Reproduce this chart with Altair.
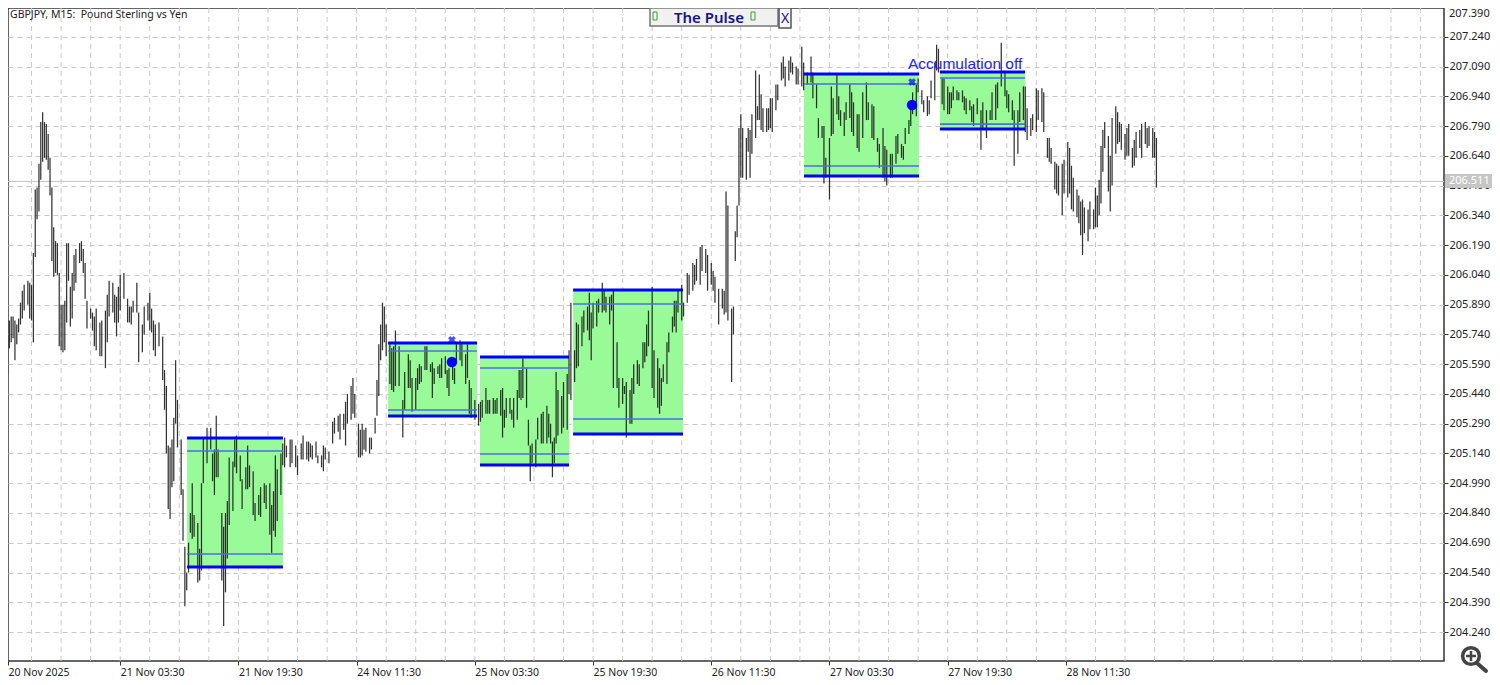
import json
import altair as alt
import pandas as pd

# Rows: bar number (15-minute bars), high and low, both in hundredths of a yen above 204.00
WEEK_A = [(1,158,134),(2,169,143),(3,174,154),(4,181,167),(5,183,170),(6,183,172),(7,181,161),(8,179,169),(9,182,175),(10,190,179),
(11,196,182),(12,199,186),(14,201,189),(15,200,182),(16,199,181),(17,215,170),(18,247,213),(19,248,232),(20,260,236),(21,281,252),
(22,286,261),(23,281,263),(24,280,262),(25,275,257),(26,263,244),(27,248,211),(28,228,203),(29,221,205),(30,220,204),(31,205,168),
(32,189,166),(33,189,165),(34,191,166),(35,220,180),(36,220,201),(37,198,178),(38,205,182),(39,214,196),(40,217,200),(42,220,210),
(43,221,211),(44,217,205),(45,210,192),(46,191,177),(48,187,182),(49,185,176),(50,183,168),(51,187,166),(53,180,163),(54,181,163),
(56,186,157),(57,194,170),(58,201,183),(60,200,185),(61,194,180),(62,193,173),(63,198,180),(64,204,186),(66,205,192),(68,192,180),
(69,188,180),(70,188,179),(71,191,185),(73,200,185),(74,185,160),(76,179,165),(77,188,174),(79,190,181),(80,195,176),(81,187,175),
(82,181,166),(83,179,163),(85,180,168),(87,173,151),(88,156,136),(89,148,114),(90,118,86),(91,117,81),(92,121,97),(93,132,100),
(94,161,129),(95,141,117),(97,121,93),(98,96,70),(99,67,37),(100,54,45),(101,69,54),(102,84,74),(103,99,71),(104,83,72),
(106,79,49),(107,66,50),(108,99,55),(109,122,99),(111,127,109),(113,127,116),(114,114,100),(115,116,93),(116,133,102),(117,116,102),
(119,84,50),(120,77,27),(121,84,44),(122,90,61),(123,112,78),(125,110,85),(126,121,107),(127,123,104),(129,113,100),(130,101,86),
(132,107,96),(133,118,96),(134,108,97),(136,105,83),(137,89,80),(139,93,83),(140,97,82),(142,99,89),(143,98,86),(145,99,73),
(146,88,64),(147,95,75),(148,113,72),(149,106,80)]
WEEK_B = [(151,114,93),(152,119,108),(153,122,107),(154,118,112),(156,121,107),(157,121,109),(159,118,107),(160,113,103),(162,119,111),(163,123,111),
(165,120,111),(166,120,110),(167,119,112),(168,118,111),(170,120,112),(171,113,109),(173,113,107),(174,118,105),(175,117,111),(177,115,109),
(179,130,119),(180,132,124),(182,133,125),(183,134,121),(185,134,126),(186,140,118),(187,144,129),(189,148,131),(190,152,134),(191,144,132),
(193,129,112),(194,126,112),(195,129,113),(196,126,116),(197,127,115),(199,122,114),(200,122,116),(202,132,124),(203,151,133),(204,169,143),
(205,179,161),(206,190,166),(207,188,170),(208,179,163),(210,169,149),(211,167,146),(212,168,145),(213,176,148),(215,168,148),(217,141,122),
(218,155,136),(220,164,147),(221,161,147),(222,152,135),(224,152,136),(225,157,146),(226,159,149),(227,158,150),(229,168,156),(230,168,156),
(232,159,155),(233,160,142),(234,157,149),(236,158,154),(237,159,152),(238,162,152),(240,163,154),(241,156,147),(242,157,143),(244,162,151),
(245,157,149),(246,169,160),(248,171,161),(249,169,158),(251,164,149),(252,169,152),(253,151,134),(254,147,132),(256,141,131),(258,139,128),
(259,140,130),(260,141,132),(262,147,134),(263,141,134),(264,141,134),(266,142,134),(267,141,134),(268,142,134),(270,146,133),(271,147,122),
(272,136,127),(273,142,132),(275,142,134),(276,136,131),(277,142,127),(279,146,131),(280,156,142),(281,156,141),(282,162,142),(284,157,137),
(285,131,118),(286,118,100),(287,119,109),(289,121,107),(290,132,121),(292,134,119),(293,135,119),(295,138,119),(296,134,122),(297,129,119),
(298,120,102),(299,122,109),(300,155,119),(301,146,123),(303,143,124),(304,150,127),(306,154,126),(307,166,144),(308,190,141)]
WEEK_C = [(310,166,150),(311,180,157),(312,179,158),(314,183,168),(315,186,175),(317,188,176),(318,195,171),(319,185,161),(320,190,177),(322,191,178),
(323,192,185),(325,200,185),(326,196,186),(327,193,185),(329,193,179),(330,194,186),(331,196,147),(333,170,147),(334,152,137),(336,152,139),
(337,148,144),(338,150,122),(340,146,129),(341,152,129),(342,159,144),(344,161,149),(345,159,148),(347,170,157),(348,170,160),(349,179,163),
(350,186,168),(352,198,147),(353,166,142),(355,162,137),(356,157,134),(357,152,138),(358,159,150),(360,170,149),(361,175,165),(363,183,175),
(364,191,178),(365,191,175),(366,196,185),(368,199,181),(369,190,183),(371,205,190),(372,204,194),(374,210,196),(375,209,199),(376,212,201),
(378,218,199),(379,219,206),(381,217,205),(382,214,196),(384,210,199),(385,206,196),(386,203,190),(388,197,179),(390,197,187),(391,196,184),
(392,246,185),(393,239,181),(395,187,150),(396,188,174),(397,226,211),(398,239,223),(399,278,239),(400,285,253),(401,278,253),(403,273,252),
(404,278,266),(405,277,253),(406,285,265),(408,307,273),(409,289,282),(410,305,282),(411,295,277),(412,288,276),(414,288,276),(415,288,277),
(416,293,278),(417,293,276),(419,300,287),(420,300,292),(422,311,302),(423,314,303),(424,309,299),(426,312,302),(427,314,306),(428,311,305),
(430,309,300),(431,308,300),(433,319,299),(434,311,297),(436,306,300),(438,314,301),(439,306,293),(441,300,288),(442,283,273),(444,279,273),
(445,279,250),(446,263,253),(448,273,242),(449,299,274),(450,293,275),(452,305,285),(453,294,282),(454,287,279),(456,286,274),(457,291,282),
(459,300,283),(460,296,276),(461,291,274),(463,285,268),(464,285,266),(466,296,273),(468,301,282),(469,291,282),(471,290,273),(472,289,272)]
WEEK_D = [(474,273,266),(475,270,258),(477,278,253),(478,269,251),(479,267,249),(481,265,253),(482,265,253),(484,274,260),(485,275,265),(487,270,263),
(488,269,262),(489,278,270),(491,282,275),(492,288,279),(493,296,285),(495,300,284),(496,303,296),(498,297,290),(499,292,286),(501,294,284),
(502,292,285),(503,302,293),(505,311,292),(506,320,307),(507,318,306),(509,303,290),(510,303,287),(512,299,285),(513,296,285),(514,296,288),
(515,299,292),(517,297,292),(518,296,292),(520,297,291),(521,294,287),(522,293,285),(524,292,287),(525,289,281),(526,290,279),(528,293,285),
(530,287,267),(531,291,277),(533,287,273),(535,287,282),(536,296,282),(538,300,282),(539,301,288),(541,321,299),(543,307,294),(544,297,288),
(545,295,286),(547,292,282),(548,287,259),(550,287,265),(551,296,281),(553,299,282),(554,299,276),(555,288,272),(557,283,274),(558,285,277),
(560,298,276),(561,297,282),(563,298,281),(564,296,276),(566,273,263),(567,273,261),(568,268,260),(570,261,247),(571,260,245),(572,259,244),
(574,260,234),(575,262,245),(577,271,243),(578,268,245),(579,259,237),(580,253,236),(582,247,233),(583,244,230),(584,241,224),(585,242,214),
(586,238,225),(588,237,221),(589,241,227),(591,237,227),(592,248,228),(593,244,228),(594,252,234),(595,269,240),(596,277,256),(597,281,268),
(599,274,246),(600,264,236),(601,283,249),(603,289,265),(604,286,270),(605,281,271),(606,280,267),(608,275,262),(609,278,264),(610,280,264),
(612,268,258),(613,272,259),(614,276,263),(616,277,268),(617,280,263),(619,281,270),(620,278,268),(621,279,269),(623,278,263),(624,276,263),(625,273,248)]

BOX_START = [100.2, 209.0, 258.8, 309.2, 434.2, 507.8]
BOX_END = [152.1, 257.2, 307.0, 368.7, 496.5, 553.9]
BOX_TOP = [205.218, 205.697, 205.626, 205.964, 207.052, 207.062]
BOX_BOTTOM = [204.568, 205.329, 205.082, 205.238, 206.538, 206.775]
BOX_UPPER = [205.152, 205.656, 205.571, 205.893, 207.002, 207.032]
BOX_LOWER = [204.633, 205.359, 205.137, 205.314, 206.589, 206.800]

MARK_BAR = [243.6, 492.7]
CROSS_PRICE = [205.712, 207.012]
DOT_PRICE = [205.601, 206.896]

PRICE_TICKS = [207.24, 207.09, 206.94, 206.79, 206.64, 206.49, 206.34, 206.19, 206.04, 205.89,
               205.74, 205.59, 205.44, 205.29, 205.14, 204.99, 204.84, 204.69, 204.54, 204.39, 204.24]
TOP_PRICE_LABEL = "207.390"
TIME_TICKS = [3.3, 64, 128, 192, 256, 320, 384, 448, 512, 576]
TIME_LABELS = ["20 Nov 2025", "21 Nov 03:30", "21 Nov 19:30", "24 Nov 11:30", "25 Nov 03:30",
               "25 Nov 19:30", "26 Nov 11:30", "27 Nov 03:30", "27 Nov 19:30", "28 Nov 11:30"]
GRID_BARS = list(range(16, 784, 16))
LAST_PRICE = 206.511

FONT = "Noto Sans"
rows = WEEK_A + WEEK_B + WEEK_C + WEEK_D
bars = pd.DataFrame(rows, columns=["bar", "h", "l"])
bars["high"] = 204 + bars["h"] / 100
bars["low"] = 204 + bars["l"] / 100
boxes = pd.DataFrame(dict(s=BOX_START, e=BOX_END, top=BOX_TOP, bottom=BOX_BOTTOM, upper=BOX_UPPER, lower=BOX_LOWER))
marks = pd.DataFrame(dict(bar=MARK_BAR, cross=CROSS_PRICE, dot=DOT_PRICE))
one = pd.DataFrame({"a": [0]})

xs = alt.Scale(domain=[3.25, 780.7], nice=False, zero=False)
ys = alt.Scale(domain=[204.094, 207.385], nice=False, zero=False)
label_expr = json.dumps(TIME_LABELS) + "[round(datum.value/64)]"

x_axis = alt.Axis(
    values=TIME_TICKS, labelExpr=label_expr, title=None, grid=False, labelAlign="left",
    labelFont=FONT, labelFontSize=10.5, labelColor="#222", labelPadding=2, tickSize=4,
    tickColor="#333", domain=False, labelOverlap=False, labelBound=False, labelFlush=False)
y_axis = alt.Axis(
    orient="right", values=PRICE_TICKS, format=".3f", title=None, grid=True, gridColor="#c9c9c9",
    gridDash=[5, 4], labelFont=FONT, labelFontSize=11, labelColor="#222", labelPadding=1, tickSize=4,
    tickColor="#333", domain=False, labelOverlap=False, labelBound=False, labelFlush=False)

X = lambda f: alt.X(f, type="quantitative", scale=xs, axis=x_axis)
Y = lambda f: alt.Y(f, type="quantitative", scale=ys, axis=y_axis)

grid_x = alt.Chart(pd.DataFrame({"bar": GRID_BARS})).mark_rule(
    color="#c9c9c9", strokeDash=[5, 4], strokeWidth=1
).encode(x=X("bar"))

box_fill = alt.Chart(boxes).mark_rect(color="#98FB98").encode(x=X("s"), x2="e", y=Y("top"), y2="bottom")

candles = alt.Chart(bars).mark_rule(color="#111111", strokeWidth=1.25, opacity=0.85, clip=True).encode(
    x=X("bar"), y=Y("high"), y2="low")

def hline(col, width, color, opacity=1.0):
    return alt.Chart(boxes).mark_rule(color=color, strokeWidth=width, opacity=opacity).encode(
        x=X("s"), x2="e", y=Y(col))

last_line = alt.Chart(one).mark_rule(color="#c4c4c4", strokeWidth=1).encode(y=alt.Y(datum=LAST_PRICE, scale=ys, axis=y_axis))
last_box = alt.Chart(one).mark_rect(color="#c6c6c6").encode(
    x=alt.value(1437), x2=alt.value(1484), y=alt.value(166), y2=alt.value(180))
last_text = alt.Chart(one).mark_text(text=f"{LAST_PRICE:.3f}", color="white", font=FONT, fontSize=11, align="left").encode(
    x=alt.value(1441), y=alt.Y(datum=LAST_PRICE, scale=ys, axis=y_axis))
top_label = alt.Chart(one).mark_text(text=TOP_PRICE_LABEL, color="#222", font=FONT, fontSize=11, align="left").encode(
    x=alt.value(1441), y=alt.value(6))

cross = alt.Chart(marks).mark_point(shape="cross", size=60, filled=True, color="#0000ff", angle=45).encode(x=X("bar"), y=Y("cross"))
dot = alt.Chart(marks).mark_point(shape="circle", size=110, filled=True, color="#0000ff", opacity=1).encode(x=X("bar"), y=Y("dot"))
accum = alt.Chart(pd.DataFrame({"bar": [490.5], "price": [207.104], "t": ["Accumulation off"]})).mark_text(
    font="Liberation Sans", fontSize=15.5, color="#2222ff", align="left").encode(x=X("bar"), y=Y("price"), text="t:N")

header = alt.Chart(one).mark_text(text="GBPJPY, M15:\u00a0\u00a0Pound Sterling vs Yen", font=FONT, fontSize=10.5, color="#222", align="left").encode(
    x=alt.value(2), y=alt.value(7))
tri = alt.Chart(one).mark_point(shape="triangle-down", size=60, filled=True, color="#bdbdbd", opacity=1).encode(
    x=alt.value(1149), y=alt.value(0))
panel = alt.Chart(one).mark_rect(fill="#f1f1f1", stroke="#777", strokeWidth=1.5).encode(
    x=alt.value(642), x2=alt.value(770), y=alt.value(0), y2=alt.value(18))
panel_title = alt.Chart(one).mark_text(text="The Pulse", font="Noto Sans", fontWeight=600, fontSize=15, color="#14148c").encode(
    x=alt.value(701), y=alt.value(10))
led1 = alt.Chart(one).mark_rect(fill="#f1f1f1", stroke="#3a9a3a", strokeWidth=1).encode(
    x=alt.value(645), x2=alt.value(649), y=alt.value(4), y2=alt.value(12))
led2 = alt.Chart(one).mark_rect(fill="#f1f1f1", stroke="#3a9a3a", strokeWidth=1).encode(
    x=alt.value(743), x2=alt.value(747), y=alt.value(4), y2=alt.value(12))
x_btn = alt.Chart(one).mark_rect(fill="#f6f6f6", stroke="#555", strokeWidth=1.5).encode(
    x=alt.value(771), x2=alt.value(783), y=alt.value(0), y2=alt.value(20))
x_txt = alt.Chart(one).mark_text(text="X", font="Noto Sans", fontSize=14, color="#14148c").encode(
    x=alt.value(777), y=alt.value(11))

ICON = "#444444"
lens = alt.Chart(one).mark_point(shape="circle", size=280, filled=False, color=ICON, strokeWidth=3.5, opacity=1).encode(
    x=alt.value(1463), y=alt.value(648))
plus_h = alt.Chart(one).mark_rule(color=ICON, strokeWidth=2.5).encode(
    x=alt.value(1458), x2=alt.value(1468), y=alt.value(648))
plus_v = alt.Chart(one).mark_rule(color=ICON, strokeWidth=2.5).encode(
    x=alt.value(1463), y=alt.value(643), y2=alt.value(653))
handle = alt.Chart(one).mark_rule(color=ICON, strokeWidth=4, strokeCap="round").encode(
    x=alt.value(1470), x2=alt.value(1478), y=alt.value(656), y2=alt.value(663))

chart = alt.layer(
    grid_x, box_fill, last_line, candles,
    hline("upper", 1.6, "#4a6fe0"), hline("lower", 1.6, "#4a6fe0"),
    hline("top", 3, "#0000ff"), hline("bottom", 3, "#0000ff"),
    cross, dot, accum, last_box, last_text, top_label, header, tri, panel, panel_title, led1, led2, x_btn, x_txt,
    lens, plus_h, plus_v, handle,
).properties(
    width=1436, height=653,
    padding={"left": 0, "top": 0, "right": 48, "bottom": 16},
    autosize=alt.AutoSizeParams(type="none"),
    background="white",
).configure_view(stroke="#333333", strokeWidth=1.5)

chart.save("out.html", embed_options={"renderer": "svg", "actions": False})
